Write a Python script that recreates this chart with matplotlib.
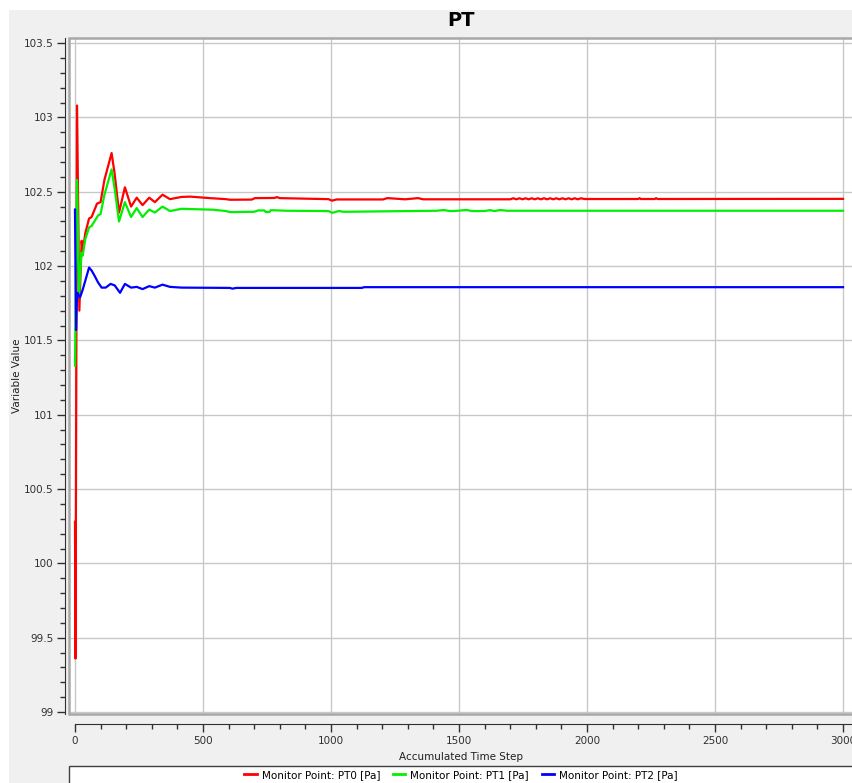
import matplotlib
matplotlib.use("Agg")
import matplotlib.pyplot as plt
from matplotlib.patches import Rectangle
from matplotlib.lines import Line2D

# monitor point data
pt0_steps = [0, 2, 8, 17, 26, 30, 40, 55, 65, 86, 100, 115, 143, 155, 172, 195, 219, 241, 264,
             290, 312, 342, 371, 416, 450, 527, 590, 605, 690, 703, 780, 788, 800, 990, 1004,
             1022, 1203, 1220, 1290, 1340, 1360, 1700,
             1712, 1724, 1736, 1748, 1760, 1772, 1784, 1796, 1808, 1820, 1832, 1844, 1856,
             1868, 1880, 1892, 1904, 1916, 1928, 1940, 1952, 1964, 1976, 1990,
             2200, 2205, 2210, 2265, 2270, 2275, 3000]
pt0_vals = [100.28, 99.36, 103.08, 101.70, 102.17, 102.09, 102.22, 102.32, 102.33, 102.42, 102.43,
            102.58, 102.76, 102.62, 102.36, 102.53, 102.40, 102.46, 102.41, 102.46, 102.43,
            102.48, 102.45, 102.465, 102.467, 102.457, 102.450, 102.446, 102.447, 102.457,
            102.458, 102.464, 102.457, 102.450, 102.440, 102.448, 102.448, 102.457, 102.449,
            102.457, 102.449, 102.449,
            102.456, 102.449, 102.456, 102.449, 102.456, 102.449, 102.456, 102.449, 102.456,
            102.449, 102.456, 102.449, 102.456, 102.449, 102.456, 102.449, 102.456, 102.449,
            102.456, 102.449, 102.456, 102.449, 102.456, 102.451,
            102.451, 102.457, 102.451, 102.451, 102.457, 102.451, 102.452]

pt1_steps = [0, 8, 16, 25, 30, 40, 55, 65, 90, 100, 115, 143, 155, 172, 195, 219, 241, 264, 290,
             312, 342, 371, 416, 540, 590, 605, 700, 715, 740, 745, 760, 765, 826, 990, 1005,
             1030, 1050, 1413, 1440, 1460, 1480, 1530, 1550, 1600, 1620, 1640, 1660, 1688, 3000]
pt1_vals = [101.33, 102.58, 101.80, 102.09, 102.07, 102.18, 102.26, 102.27, 102.34, 102.35, 102.48,
            102.65, 102.52, 102.30, 102.43, 102.33, 102.39, 102.33, 102.38, 102.36, 102.40,
            102.37, 102.385, 102.379, 102.370, 102.363, 102.365, 102.374, 102.374, 102.363,
            102.364, 102.376, 102.372, 102.370, 102.358, 102.370, 102.365, 102.372, 102.377,
            102.371, 102.370, 102.377, 102.370, 102.370, 102.376, 102.370, 102.377, 102.372,
            102.372]

pt2_steps = [0, 4, 7, 10, 20, 30, 40, 55, 65, 78, 90, 104, 120, 139, 155, 176, 195, 219, 241, 264,
             290, 312, 342, 371, 416, 605, 615, 630, 1120, 1130, 3000]
pt2_vals = [102.38, 101.57, 101.75, 101.82, 101.79, 101.84, 101.90, 101.99, 101.97, 101.93, 101.89,
            101.855, 101.855, 101.88, 101.87, 101.82, 101.88, 101.855, 101.86, 101.845, 101.865,
            101.855, 101.875, 101.86, 101.855, 101.853, 101.848, 101.853, 101.853, 101.858,
            101.858]

series_names = ['Monitor Point: PT0 [Pa]', 'Monitor Point: PT1 [Pa]', 'Monitor Point: PT2 [Pa]']
series_colors = ['#ff0000', '#00f000', '#0000ff']

xticks = [0, 500, 1000, 1500, 2000, 2500, 3000]
yticks = [99, 99.5, 100, 100.5, 101, 101.5, 102, 102.5, 103, 103.5]
ytick_labels = ['99', '99.5', '100', '100.5', '101', '101.5', '102', '102.5', '103', '103.5']

W, H = 853, 783
fig = plt.figure(figsize=(W / 100, H / 100), dpi=100, facecolor='white')
fig.patches.append(Rectangle((9 / W, 0), 1, 1 - 10 / H, transform=fig.transFigure,
                             facecolor='#f0f0f0', edgecolor='none', zorder=-10))

ax = fig.add_axes([69 / W, 1 - 714 / H, (W - 69) / W, (714 - 38) / H])
ax.set_facecolor('white')

for s, v, c, n in zip([pt0_steps, pt1_steps, pt2_steps], [pt0_vals, pt1_vals, pt2_vals],
                      series_colors, series_names):
    ax.plot(s, v, color=c, lw=1.6, label=n, zorder=3)

ax.set_xlim(-23.4, 3039)
ax.set_ylim(98.987, 103.534)

ax.set_xticks(xticks)
ax.set_xticks(range(0, 3001, 100), minor=True)
ax.set_yticks(yticks)
ax.set_yticklabels(ytick_labels)
ax.set_yticks([99 + 0.1 * i for i in range(46)], minor=True)
ax.grid(True, which='major', color='#c8c8c8', lw=1)

for sp in ['top', 'right']:
    ax.spines[sp].set_visible(False)
ax.spines['left'].set_position(('outward', 3))
ax.spines['left'].set_color('#303030')
ax.spines['bottom'].set_position(('outward', 7))
ax.spines['bottom'].set_color('#303030')
ax.spines['bottom'].set_bounds(0, 3039)

# gray frame round the plot area
ax.add_patch(Rectangle((0, 0), 1, 1, transform=ax.transAxes, facecolor='none',
                       edgecolor='#a8a8a8', lw=1.8, clip_on=False, zorder=4))

ax.tick_params(axis='both', which='major', labelsize=7.5, colors='#303030', length=6, width=1)
ax.tick_params(axis='both', which='minor', length=3.5, width=1, colors='#303030')
ax.tick_params(axis='x', pad=3)
ax.tick_params(axis='y', pad=2, length=6)

ax.set_xlabel('Accumulated Time Step', fontsize=7.5, color='#202020', labelpad=4)
ax.set_ylabel('Variable Value', fontsize=7.5, color='#202020', va='center')
ax.yaxis.set_label_coords(-52 / (W - 69), 0.5)

fig.text(461 / W, 1 - 20 / H, 'PT', ha='center', va='center', fontsize=14, fontweight='bold')

# legend box along the bottom
fig.patches.append(Rectangle((69 / W, -0.01), 1, (783 - 766) / H + 0.01, transform=fig.transFigure,
                             facecolor='white', edgecolor='#404040', lw=1, zorder=-5))
handles = [Line2D([], [], color=c, lw=2) for c in series_colors]
fig.legend(handles, series_names, loc='center', bbox_to_anchor=(461 / W, 1 - 775 / H), ncol=3,
           frameon=False, fontsize=7.5, handlelength=1.2, columnspacing=1.2, handletextpad=0.5)

fig.savefig('out.png', dpi=100, facecolor=fig.get_facecolor())
